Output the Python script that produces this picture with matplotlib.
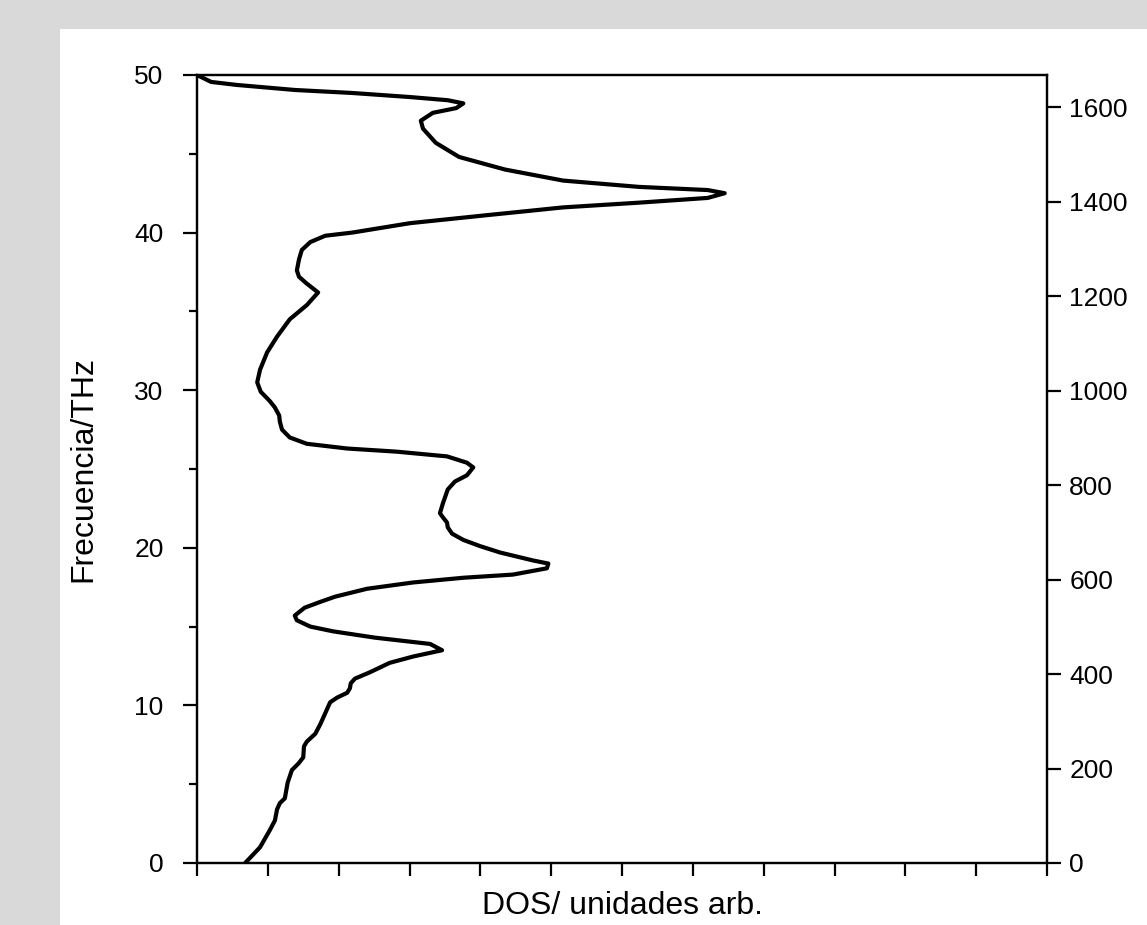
import matplotlib
matplotlib.use('Agg')
import matplotlib.pyplot as plt
from matplotlib.patches import Rectangle
from matplotlib.ticker import MultipleLocator, NullFormatter

plt.rcParams['font.family'] = ['Liberation Sans', 'DejaVu Sans']

# densidad de estados (unidades arbitrarias) vs frecuencia (THz)
frecuencia = [0.0, 1.0, 2.1, 2.7, 3.4, 3.8, 4.1, 5.1, 5.9, 6.3, 6.7, 7.4, 7.7, 8.2, 8.8,
              9.5, 10.2, 10.5, 10.8, 11.1, 11.4, 11.7, 12.1, 12.7, 13.1, 13.5, 13.9, 14.3,
              14.7, 15.0, 15.4, 15.7, 16.2, 16.6, 16.9, 17.4, 17.8, 18.1, 18.3, 18.7, 19.0,
              19.2, 19.7, 20.1, 20.5, 20.9, 21.3, 21.6, 22.0, 22.2, 22.8, 23.7, 24.2, 24.6,
              25.1, 25.4, 25.8, 26.1, 26.3, 26.6, 27.0, 27.5, 28.0, 28.4, 28.9, 29.3, 29.9,
              30.5, 31.3, 32.4, 33.4, 34.5, 35.4, 36.2, 36.8, 37.2, 37.6, 38.3, 38.9, 39.4,
              39.8, 40.0, 40.6, 41.1, 41.6, 41.9, 42.2, 42.5, 42.7, 42.9, 43.3, 44.0, 44.8,
              45.7, 46.6, 47.1, 47.6, 47.9, 48.2, 48.4, 48.6, 48.86, 49.05, 49.37, 49.56, 50.0]
dos = [0.68, 0.89, 1.03, 1.10, 1.13, 1.17, 1.24, 1.28, 1.34, 1.43, 1.50, 1.51, 1.55, 1.67, 1.74,
       1.81, 1.88, 1.98, 2.12, 2.16, 2.17, 2.23, 2.44, 2.72, 3.05, 3.46, 3.29, 2.51,
       1.92, 1.60, 1.41, 1.38, 1.52, 1.76, 1.95, 2.40, 3.05, 3.76, 4.46, 4.94, 4.96,
       4.74, 4.28, 4.00, 3.76, 3.60, 3.54, 3.53, 3.46, 3.43, 3.47, 3.54, 3.64, 3.81,
       3.90, 3.81, 3.53, 2.82, 2.12, 1.55, 1.31, 1.20, 1.17, 1.16, 1.10, 1.03, 0.90,
       0.85, 0.89, 0.99, 1.13, 1.31, 1.55, 1.71, 1.54, 1.44, 1.41, 1.44, 1.48, 1.60,
       1.81, 2.19, 3.01, 4.08, 5.17, 6.24, 7.21, 7.45, 7.21, 6.24, 5.17, 4.35, 3.70,
       3.37, 3.19, 3.16, 3.33, 3.66, 3.76, 3.54, 3.01, 2.19, 1.38, 0.56, 0.20, 0.0]

thz_a_cm = 33.356  # 1 THz en cm-1

fig = plt.figure(figsize=(11.47, 9.25), dpi=100, facecolor='#d9d9d9')
# panel blanco detras de la grafica
fig.patches.append(Rectangle((60/1147, 0), 1 - 60/1147, 1 - 29/925,
                             transform=fig.transFigure, facecolor='white',
                             edgecolor='none', zorder=-10))

ax = fig.add_axes([197/1147, 1 - 863/925, 850/1147, 788/925])
ax.patch.set_alpha(0)
ax.plot(dos, frecuencia, color='black', lw=3.0, solid_joinstyle='round',
        solid_capstyle='round')

ax.set_xlim(0, 12)
ax.set_ylim(0, 50)
ax.xaxis.set_major_locator(MultipleLocator(1))
ax.xaxis.set_major_formatter(NullFormatter())
ax.yaxis.set_major_locator(MultipleLocator(10))
ax.yaxis.set_minor_locator(MultipleLocator(5))
ax.tick_params(axis='both', which='major', direction='out', length=10, width=1.6,
               labelsize=19)
ax.tick_params(axis='y', which='major', pad=14)
ax.tick_params(axis='y', which='minor', direction='out', length=6, width=1.6)
ax.tick_params(axis='x', which='major', length=9)
for s in ax.spines.values():
    s.set_linewidth(1.6)

ax.set_xlabel('DOS/ unidades arb.', fontsize=23, labelpad=8)
ax.set_ylabel('Frecuencia/THz', fontsize=23, labelpad=26)

ax2 = ax.twinx()
ax2.set_ylim(0, 50 * thz_a_cm)
ax2.yaxis.set_major_locator(MultipleLocator(200))
ax2.tick_params(axis='y', direction='out', length=10, width=1.6, labelsize=19, pad=6)
for s in ax2.spines.values():
    s.set_linewidth(1.6)

fig.savefig('out.png', dpi=100, facecolor=fig.get_facecolor())
